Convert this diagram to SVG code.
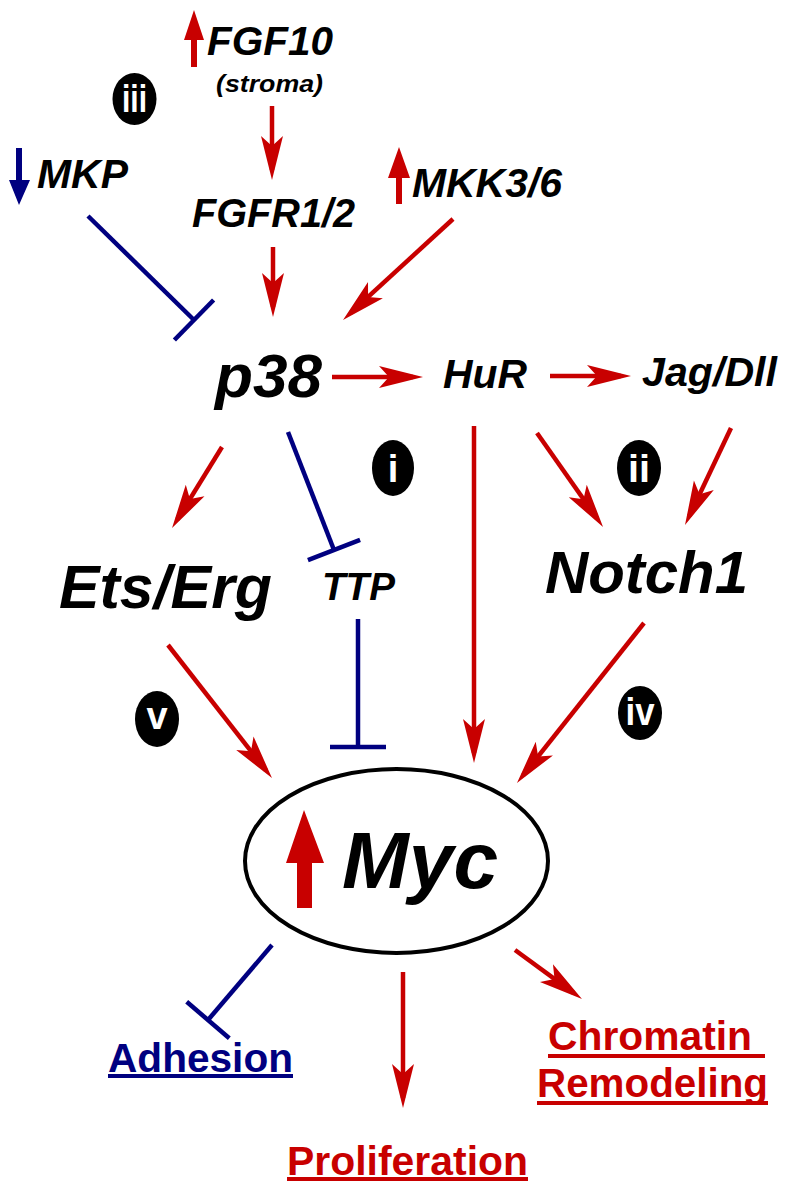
<svg xmlns="http://www.w3.org/2000/svg" width="787" height="1191" viewBox="0 0 787 1191">
<style>
.lbl{font-family:"Liberation Sans",Arial,sans-serif;font-weight:bold;font-style:italic;fill:#000}
.out{font-family:"Liberation Sans",Arial,sans-serif;font-weight:bold;font-size:40px}
.act{fill:none;stroke:#c80000;stroke-width:4.5}
.inh{fill:none;stroke:#000080;stroke-width:4.5}
.badge{fill:#000}
.bt{font-family:"Liberation Sans",Arial,sans-serif;font-weight:bold;font-size:38px;fill:#fff;text-anchor:middle}
.red{fill:#c80000}
.blue{fill:#000080}
</style>
<defs>
<marker id="arr" markerUnits="userSpaceOnUse" markerWidth="60" markerHeight="30" viewBox="-40 -15 60 30" refX="0" refY="0" orient="auto" overflow="visible">
<path d="M10,0 L-34,-11 L-24,0 L-34,11 Z" fill="#c80000"/>
</marker>
<marker id="bar" markerUnits="userSpaceOnUse" markerWidth="10" markerHeight="60" viewBox="-5 -30 10 60" refX="0" refY="0" orient="auto" overflow="visible">
<path d="M0,-28 L0,28" stroke="#000080" stroke-width="4.5"/>
</marker>
</defs>
<rect width="787" height="1191" fill="#fff"/>

<g id="connectors">
<path class="act" d="M272,106 L272,170" marker-end="url(#arr)"/>
<path class="act" d="M273,247 L273,307" marker-end="url(#arr)"/>
<path class="act" d="M453,219 L350.4,313.2" marker-end="url(#arr)"/>
<path class="act" d="M332,377 L413,377" marker-end="url(#arr)"/>
<path class="act" d="M550,376 L621,376" marker-end="url(#arr)"/>
<path class="act" d="M222,447 L177.3,519.5" marker-end="url(#arr)"/>
<path class="act" d="M537,433 L597.3,518.8" marker-end="url(#arr)"/>
<path class="act" d="M731,428 L689.3,516" marker-end="url(#arr)"/>
<path class="act" d="M168,645 L265.8,770.1" marker-end="url(#arr)"/>
<path class="act" d="M474,426 L474,753" marker-end="url(#arr)"/>
<path class="act" d="M644,623 L523.2,775.2" marker-end="url(#arr)"/>
<path class="act" d="M403,972 L403,1098" marker-end="url(#arr)"/>
<path class="act" d="M515,950 L573.9,993.1" marker-end="url(#arr)"/>
<path class="inh" d="M88,216 L194,320" marker-end="url(#bar)"/>
<path class="inh" d="M288,432 L334,550" marker-end="url(#bar)"/>
<path class="inh" d="M358,619 L358,747" marker-end="url(#bar)"/>
<path class="inh" d="M272,945 L208,1020" marker-end="url(#bar)"/>
</g>

<g id="FGF10">
<polygon class="red" points="194,10 204,40 197,40 197,67 191,67 191,40 184,40"/>
<text class="lbl" x="207" y="55" font-size="40" textLength="126" lengthAdjust="spacingAndGlyphs">FGF10</text>
<text class="lbl" x="216" y="92" font-size="24" textLength="107" lengthAdjust="spacingAndGlyphs">(stroma)</text>
</g>
<g id="MKP">
<polygon class="blue" points="16,148 22,148 22,180 30,180 19,205 9,180 16,180"/>
<text class="lbl" x="37" y="188" font-size="40" textLength="91" lengthAdjust="spacingAndGlyphs">MKP</text>
</g>
<g id="FGFR">
<text class="lbl" x="192" y="227" font-size="40" textLength="163" lengthAdjust="spacingAndGlyphs">FGFR1/2</text>
</g>
<g id="MKK">
<polygon class="red" points="399,147 410,178 402,178 402,204 396,204 396,178 388,178"/>
<text class="lbl" x="412" y="197" font-size="40" textLength="150" lengthAdjust="spacingAndGlyphs">MKK3/6</text>
</g>
<g id="p38">
<text class="lbl" x="215" y="397" font-size="62" textLength="107" lengthAdjust="spacingAndGlyphs">p38</text>
</g>
<g id="HuR">
<text class="lbl" x="443" y="388" font-size="40" textLength="84" lengthAdjust="spacingAndGlyphs">HuR</text>
</g>
<g id="JagDll">
<text class="lbl" x="642" y="386" font-size="40" textLength="135" lengthAdjust="spacingAndGlyphs">Jag/Dll</text>
</g>
<g id="EtsErg">
<text class="lbl" x="59" y="608" font-size="61" textLength="213" lengthAdjust="spacingAndGlyphs">Ets/Erg</text>
</g>
<g id="TTP">
<text class="lbl" x="322" y="600" font-size="38" textLength="73" lengthAdjust="spacingAndGlyphs">TTP</text>
</g>
<g id="Notch1">
<text class="lbl" x="545" y="593" font-size="60" textLength="203" lengthAdjust="spacingAndGlyphs">Notch1</text>
</g>
<g id="Myc">
<ellipse cx="396.5" cy="861" rx="151.5" ry="92" fill="none" stroke="#000" stroke-width="4"/>
<polygon class="red" points="304,810 324,863 312,863 312,908 297,908 297,863 286,863"/>
<text class="lbl" x="342" y="888" font-size="80" textLength="156" lengthAdjust="spacingAndGlyphs">Myc</text>
</g>
<g id="Adhesion">
<text class="out blue" x="108" y="1072" textLength="185" lengthAdjust="spacingAndGlyphs">Adhesion</text>
<rect class="blue" x="108" y="1074" width="185" height="4"/>
</g>
<g id="Proliferation">
<text class="out red" x="287" y="1175" textLength="241" lengthAdjust="spacingAndGlyphs">Proliferation</text>
<rect class="red" x="287" y="1177" width="241" height="4"/>
</g>
<g id="Chromatin">
<text class="out red" x="548" y="1050" textLength="204" lengthAdjust="spacingAndGlyphs">Chromatin</text>
<rect class="red" x="548" y="1054" width="217" height="4"/>
<text class="out red" x="537" y="1097" textLength="231" lengthAdjust="spacingAndGlyphs">Remodeling</text>
<rect class="red" x="537" y="1101" width="231" height="4"/>
</g>

<g id="badge-iii">
<ellipse class="badge" cx="134.5" cy="99" rx="22" ry="26"/>
<text class="bt" x="134.5" y="112" textLength="25" lengthAdjust="spacingAndGlyphs">iii</text>
</g>
<g id="badge-i">
<ellipse class="badge" cx="393" cy="468" rx="21" ry="28"/>
<text class="bt" x="393" y="482">i</text>
</g>
<g id="badge-ii">
<ellipse class="badge" cx="639" cy="468" rx="22" ry="28"/>
<text class="bt" x="639" y="482" textLength="22" lengthAdjust="spacingAndGlyphs">ii</text>
</g>
<g id="badge-iv">
<ellipse class="badge" cx="640" cy="713" rx="22" ry="27"/>
<text class="bt" x="640" y="725" font-size="34" textLength="29" lengthAdjust="spacingAndGlyphs">iv</text>
</g>
<g id="badge-v">
<ellipse class="badge" cx="157" cy="719" rx="22" ry="28"/>
<text class="bt" x="157" y="729" font-size="30">v</text>
</g>
</svg>
